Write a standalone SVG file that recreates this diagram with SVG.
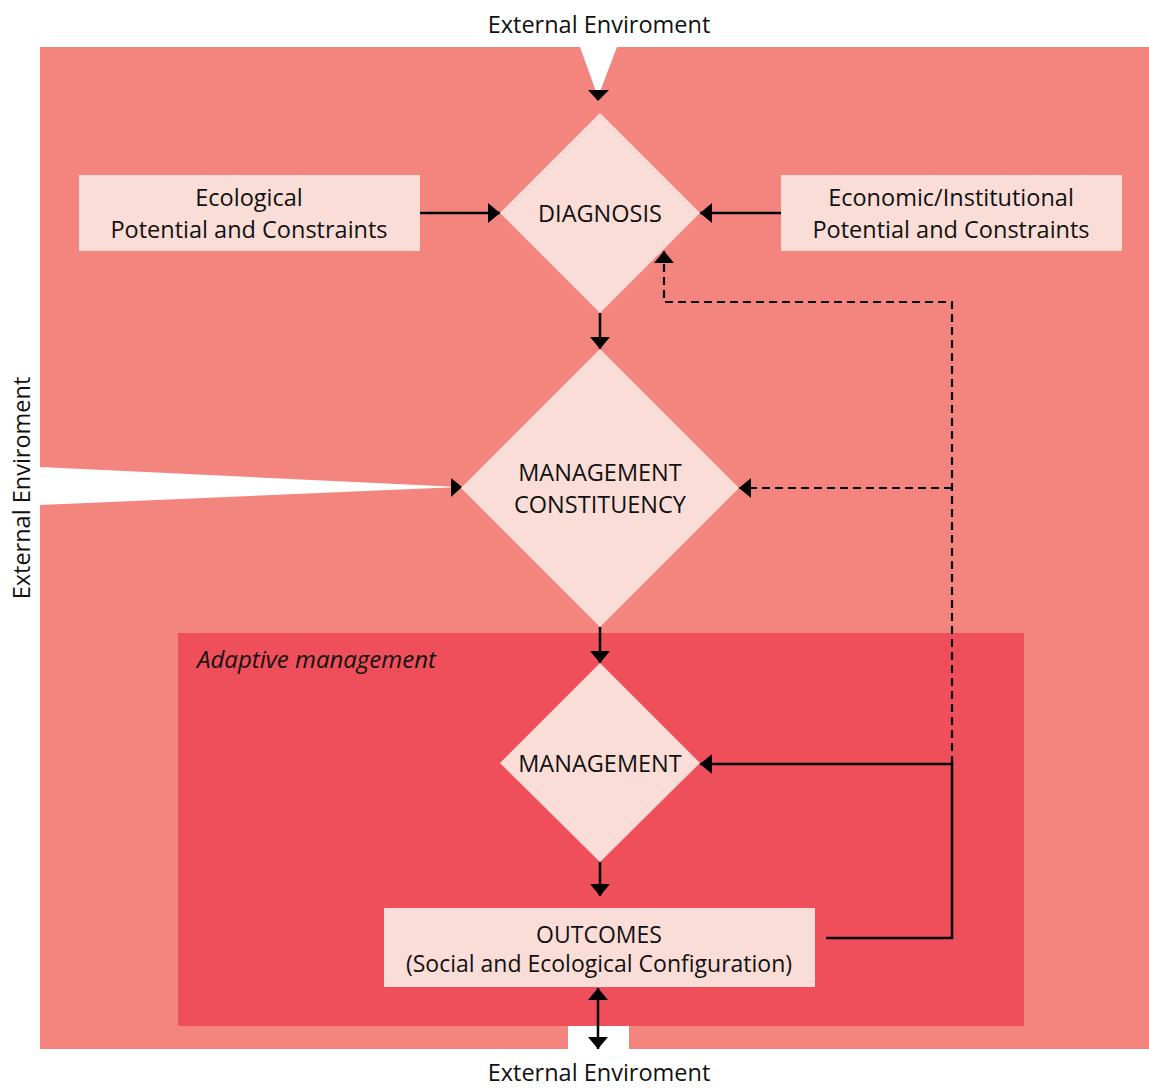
<svg xmlns="http://www.w3.org/2000/svg" width="1149" height="1088" viewBox="0 0 1149 1088">
<style>
text{font-family:"Open Sans","Liberation Sans",sans-serif;fill:#111;font-size:23.5px;text-anchor:middle}
.lt{fill:#FBDDD7}
.ln{fill:none;stroke:#000;stroke-width:2.5}
.ds{stroke-dasharray:8 5;stroke-width:2.2}
</style>
<defs>
<marker id="ah" viewBox="0 0 12 20" refX="12" refY="10" markerWidth="12" markerHeight="20" markerUnits="userSpaceOnUse" orient="auto-start-reverse">
<path d="M0,0 L12,10 L0,20 z" fill="#000"/>
</marker>
</defs>
<rect width="1149" height="1088" fill="#fff"/>
<g id="background">
<rect x="40" y="47" width="1109" height="1002" fill="#F4857E"/>
<polygon points="580,47 617,47 598,97" fill="#fff"/>
<polygon points="40,467 460,487 40,505" fill="#fff"/>
<rect x="178" y="633" width="846" height="393" fill="#EF4F5B"/>
<rect x="568" y="1026" width="61" height="24" fill="#fff"/>
<text x="599" y="33">External Enviroment</text>
<text x="599" y="1081">External Enviroment</text>
<text transform="translate(30,488) rotate(-90)">External Enviroment</text>
<text x="197" y="668" style="font-style:italic;text-anchor:start;font-size:24px">Adaptive management</text>
<polygon points="588,90 609,90 598,101" fill="#000"/>
<polygon points="451,478 451,497 462,487" fill="#000"/>
</g>
<g id="ecological">
<rect class="lt" x="79" y="175" width="341" height="76"/>
<text x="249" y="206">Ecological</text>
<text x="249" y="238">Potential and Constraints</text>
</g>
<g id="economic">
<rect class="lt" x="781" y="175" width="341" height="76"/>
<text x="951" y="206">Economic/Institutional</text>
<text x="951" y="238">Potential and Constraints</text>
</g>
<g id="diagnosis">
<polygon class="lt" points="600,113 700,213 600,313 500,213"/>
<text x="600" y="222">DIAGNOSIS</text>
</g>
<g id="constituency">
<polygon class="lt" points="600,349 739,488 600,627 461,488"/>
<text x="600" y="481">MANAGEMENT</text>
<text x="600" y="513">CONSTITUENCY</text>
</g>
<g id="management">
<polygon class="lt" points="600,663 700,763 600,862 500,763"/>
<text x="600" y="772">MANAGEMENT</text>
</g>
<g id="outcomes">
<rect class="lt" x="384" y="908" width="431" height="79"/>
<text x="599" y="943" style="font-size:23px">OUTCOMES</text>
<text x="599" y="972" style="font-size:23px">(Social and Ecological Configuration)</text>
</g>
<g id="connectors">
<path class="ln" d="M420,213 H500" marker-end="url(#ah)"/>
<path class="ln" d="M781,213 H700" marker-end="url(#ah)"/>
<path class="ln" d="M600,313 V349" marker-end="url(#ah)"/>
<path class="ln" d="M600,627 V663" marker-end="url(#ah)"/>
<path class="ln" d="M600,862 V896" marker-end="url(#ah)"/>
<path class="ln" d="M598,988 V1049" marker-start="url(#ah)" marker-end="url(#ah)"/>
<path class="ln" d="M826,938 H952 V764 H700" marker-end="url(#ah)"/>
<path class="ln ds" d="M952,764 V302 H664 V251" marker-end="url(#ah)"/>
<path class="ln ds" d="M952,488 H739" marker-end="url(#ah)"/>
</g>
</svg>
